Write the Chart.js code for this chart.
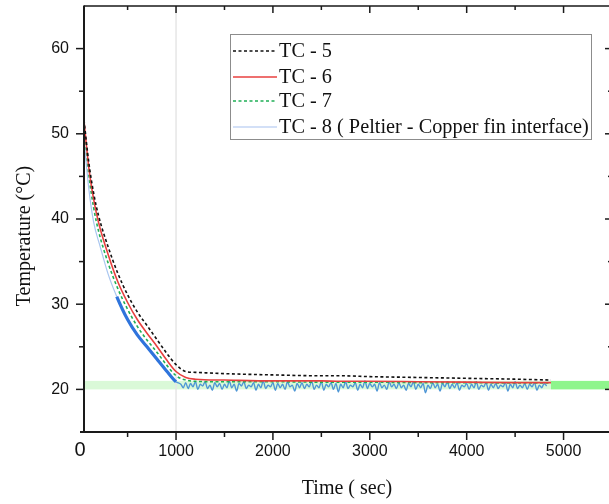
<!DOCTYPE html>
<html>
<head>
<meta charset="utf-8">
<script src="https://cdn.jsdelivr.net/npm/chart.js@4"></script>
<style>
  html, body { margin: 0; padding: 0; background: #fff; overflow: hidden; }
  #wrap { width: 609px; height: 504px; overflow: hidden; position: relative; }
  canvas { display: block; }
</style>
</head>
<body>
<div id="wrap"><canvas id="c" width="613" height="504"></canvas></div>
<script>
// ---------- data ----------
const seriesLabels = ["TC - 5", "TC - 6", "TC - 7", "TC - 8 ( Peltier - Copper fin interface)"];

// common sample times for the smooth curves (s)
const timeSmooth = [50, 100, 150, 200, 300, 400, 500, 600, 700, 800, 900, 1000, 1100, 1200, 1500, 2000, 2500, 2700, 3000, 3500, 4000, 4500, 4870];

const tc5 = [51.6, 46.6, 43.0, 40.4, 36.7, 33.6, 31.1, 29.1, 27.5, 25.9, 24.3, 22.9, 22.1, 22.0, 21.85, 21.7, 21.6, 21.6, 21.5, 21.4, 21.3, 21.2, 21.1];
const tc6 = [51.5, 46.0, 42.3, 39.6, 35.8, 32.6, 30.2, 28.2, 26.6, 25.1, 23.5, 22.1, 21.4, 21.2, 21.1, 21.0, 21.0, 20.95, 20.95, 20.9, 20.85, 20.8, 20.8];
const tc7 = [51.0, 45.2, 41.3, 38.6, 34.8, 31.8, 29.4, 27.4, 25.8, 24.4, 22.9, 21.6, 21.1, 20.95, 20.9, 20.9, 20.85, 20.85, 20.85, 20.8, 20.8, 20.75, 20.75];

// TC-8 : cooling part
const tc8CoolTime = [50, 100, 150, 216, 300, 388, 500, 600, 700, 800, 900, 1000];
const tc8Cool     = [49.3, 43.5, 39.6, 36.8, 33.5, 30.9, 28.2, 26.4, 25.0, 23.6, 22.2, 20.9];
// TC-8 : noisy steady part (start 1050 s, one reading every 25 s)
const tc8NoiseStart = 1050;
const tc8NoiseStep = 25;
const tc8Noise = [
  20.6, 20.2, 20.8, 20.1, 20.7, 20.3, 20.9, 20.0, 20.6, 20.4,
  20.9, 20.1, 20.5, 19.9, 20.8, 20.3, 20.7, 20.0, 20.6, 20.2,
  21.0, 20.2, 20.6, 19.8, 20.7, 20.4, 20.9, 20.1, 20.5, 20.3,
  20.8, 19.9, 20.6, 20.2, 21.0, 20.1, 20.5, 20.3, 20.8, 19.9,
  20.7, 20.2, 20.6, 20.0, 20.9, 20.3, 20.5, 19.8, 20.7, 20.2,
  20.8, 20.1, 20.6, 20.3, 21.0, 20.0, 20.5, 20.2, 20.9, 19.9,
  20.6, 20.3, 20.8, 20.0, 20.7, 19.7, 20.6, 20.2, 20.9, 20.1,
  20.5, 20.3, 20.8, 19.9, 20.6, 20.2, 21.0, 20.1, 20.7, 20.3,
  20.6, 19.8, 20.8, 20.2, 20.5, 20.0, 20.9, 20.3, 20.6, 20.1,
  20.8, 20.2, 20.5, 19.9, 20.7, 20.3, 20.9, 20.0, 20.6, 20.2,
  20.7, 19.6, 20.5, 20.1, 20.8, 20.2, 20.6, 19.8, 20.7, 20.3,
  20.9, 20.1, 20.6, 20.2, 20.8, 19.9, 20.5, 20.3, 20.7, 20.0,
  20.6, 20.2, 20.9, 20.0, 20.5, 20.3, 20.8, 19.9, 20.6, 20.2,
  20.7, 20.1, 20.5, 20.3, 20.8, 19.8, 20.6, 20.2, 20.9, 20.1,
  20.5, 20.2, 20.7, 20.0, 20.6, 20.3, 20.8, 19.9, 20.5, 20.2,
  20.7, 20.4
];

// axes
const xMin = 50, xMax = 5500;
const yMin = 15, yMax = 65;
const xTicks = [1000, 2000, 3000, 4000, 5000];
const xMinorTicks = [500, 1500, 2500, 3500, 4500];
const xZeroLabel = "0";
const yTicks = [20, 30, 40, 50, 60];
const yMinorTicks = [25, 35, 45, 55];
const xTitle = "Time ( sec)";
const yTitle = "Temperature (°C)";

// reference band and marker
const bandLow = 20, bandHigh = 21;
const bandSplit = 4870;
const markerTime = 1000;

// ---------- build ----------
function pts(xs, ys) { return xs.map((x, i) => ({ x: x, y: ys[i] })); }
const tc8Points = pts(tc8CoolTime, tc8Cool).concat(
  tc8Noise.map((v, i) => ({ x: tc8NoiseStart + i * tc8NoiseStep, y: v }))
);

const colors = {
  tc5: '#111111', tc6: '#e8403f', tc7: '#1fae55',
  tc8Light: '#a9c6f0', tc8Dark: '#2f74dc', tc8Noise: '#4f97d6', tc8Legend: '#c4d6f4'
};

const datasets = [
  { label: seriesLabels[0], data: pts(timeSmooth, tc5), borderColor: colors.tc5, borderWidth: 1.6, borderDash: [3, 2.5], cubicInterpolationMode: 'monotone' },
  { label: seriesLabels[1], data: pts(timeSmooth, tc6), borderColor: colors.tc6, borderWidth: 1.6, cubicInterpolationMode: 'monotone' },
  { label: seriesLabels[2], data: pts(timeSmooth, tc7), borderColor: colors.tc7, borderWidth: 1.6, borderDash: [3, 2.5], cubicInterpolationMode: 'monotone' },
  { label: seriesLabels[3], data: tc8Points, borderColor: colors.tc8Noise, borderWidth: 1, cubicInterpolationMode: 'monotone',
    legendColor: colors.tc8Legend,
    segment: {
      borderColor: c => c.p0.parsed.x < 380 ? colors.tc8Light : (c.p0.parsed.x < 1000 ? colors.tc8Dark : colors.tc8Noise),
      borderWidth: c => c.p0.parsed.x < 380 ? 1.2 : (c.p0.parsed.x < 1000 ? 3.2 : 1.4)
    }
  }
];
datasets.forEach(d => { d.pointRadius = 0; d.fill = false; });

const axisColor = '#1a1a1a';

const framePlugin = {
  id: 'frame',
  beforeDatasetsDraw(chart) {
    const { ctx, chartArea: a, scales: { x, y } } = chart;
    ctx.save();
    // band
    const yTop = y.getPixelForValue(bandHigh), yBot = y.getPixelForValue(bandLow);
    const xs = x.getPixelForValue(bandSplit);
    ctx.fillStyle = '#daf9d8';
    ctx.fillRect(a.left, yTop, xs - a.left, yBot - yTop);
    ctx.fillStyle = '#8ef58c';
    ctx.fillRect(xs, yTop, a.right - xs, yBot - yTop);
    // marker line
    const xm = x.getPixelForValue(markerTime);
    ctx.strokeStyle = '#e6e6e6';
    ctx.lineWidth = 1.5;
    ctx.beginPath(); ctx.moveTo(xm, a.top); ctx.lineTo(xm, a.bottom); ctx.stroke();
    ctx.restore();
  },
  afterDraw(chart) {
    const { ctx, chartArea: a, scales: { x, y } } = chart;
    ctx.save();
    ctx.strokeStyle = axisColor;
    // top & right frame
    ctx.lineWidth = 1.5;
    ctx.beginPath(); ctx.moveTo(a.left, a.top); ctx.lineTo(a.right, a.top); ctx.lineTo(a.right, a.bottom); ctx.stroke();
    // left & bottom axes
    ctx.lineWidth = 2;
    ctx.beginPath(); ctx.moveTo(a.left, a.top - 0.5); ctx.lineTo(a.left, a.bottom + 1); ctx.stroke();
    ctx.beginPath(); ctx.moveTo(a.left - 4, a.bottom); ctx.lineTo(a.right, a.bottom); ctx.stroke();
    ctx.lineWidth = 1.5;
    // y ticks (left outward, right inward)
    yTicks.forEach(v => {
      const p = y.getPixelForValue(v);
      ctx.beginPath(); ctx.moveTo(a.left - 8, p); ctx.lineTo(a.left, p); ctx.stroke();
      ctx.beginPath(); ctx.moveTo(a.right - 7, p); ctx.lineTo(a.right, p); ctx.stroke();
    });
    yMinorTicks.forEach(v => {
      const p = y.getPixelForValue(v);
      ctx.beginPath(); ctx.moveTo(a.left - 5, p); ctx.lineTo(a.left, p); ctx.stroke();
      ctx.beginPath(); ctx.moveTo(a.right - 4, p); ctx.lineTo(a.right, p); ctx.stroke();
    });
    // x ticks (bottom outward, top inward)
    xTicks.forEach(v => {
      const p = x.getPixelForValue(v);
      ctx.beginPath(); ctx.moveTo(p, a.bottom); ctx.lineTo(p, a.bottom + 8); ctx.stroke();
      ctx.beginPath(); ctx.moveTo(p, a.top); ctx.lineTo(p, a.top + 7); ctx.stroke();
    });
    xMinorTicks.forEach(v => {
      const p = x.getPixelForValue(v);
      ctx.beginPath(); ctx.moveTo(p, a.bottom); ctx.lineTo(p, a.bottom + 5); ctx.stroke();
      ctx.beginPath(); ctx.moveTo(p, a.top); ctx.lineTo(p, a.top + 4); ctx.stroke();
    });
    // "0" label
    ctx.fillStyle = '#111';
    ctx.font = '20px "Liberation Sans", Arial, sans-serif';
    ctx.textAlign = 'center'; ctx.textBaseline = 'middle';
    ctx.fillText(xZeroLabel, x.getPixelForValue(0) + 1, 450);
    // titles
    ctx.font = '20px "Liberation Serif", "Times New Roman", serif';
    ctx.fillText(xTitle, 347, 489);
    ctx.save();
    ctx.translate(25, 236); ctx.rotate(-Math.PI / 2);
    ctx.fillText(yTitle, 0, 0);
    ctx.restore();
    // legend
    const bx = 230.5, by = 34.5, bw = 361, bh = 105;
    ctx.fillStyle = '#fff';
    ctx.fillRect(bx, by, bw, bh);
    ctx.strokeStyle = '#8c8c8c'; ctx.lineWidth = 1;
    ctx.strokeRect(bx, by, bw, bh);
    const rows = [51, 77, 101, 127];
    ctx.font = '20.3px "Liberation Serif", "Times New Roman", serif';
    ctx.textAlign = 'left'; ctx.textBaseline = 'middle';
    chart.data.datasets.forEach((d, i) => {
      const ry = rows[i];
      ctx.save();
      ctx.strokeStyle = d.legendColor || d.borderColor;
      ctx.lineWidth = 1.6;
      ctx.setLineDash(d.borderDash || []);
      ctx.beginPath(); ctx.moveTo(233, ry); ctx.lineTo(277, ry); ctx.stroke();
      ctx.restore();
      ctx.fillStyle = '#111';
      ctx.fillText(d.label, 279, ry + 1);
    });
    ctx.restore();
  }
};

new Chart(document.getElementById('c'), {
  type: 'line',
  data: { datasets: datasets },
  options: {
    responsive: false,
    animation: false,
    layout: { autoPadding: false, padding: { top: 6, right: 1, left: 0, bottom: 0 } },
    plugins: { legend: { display: false }, tooltip: { enabled: false } },
    scales: {
      x: {
        type: 'linear', min: xMin, max: xMax,
        grid: { display: false, drawTicks: false },
        border: { display: false },
        afterBuildTicks: s => { s.ticks = xTicks.map(v => ({ value: v })); },
        afterFit: s => { s.height = 72; s.paddingLeft = 0; s.paddingRight = 0; s.paddingTop = 0; s.paddingBottom = 0; },
        ticks: { padding: 10, maxRotation: 0, autoSkip: false, color: '#111',
                 font: { family: '"Liberation Sans", Arial, sans-serif', size: 16 },
                 callback: v => String(v) }
      },
      y: {
        type: 'linear', min: yMin, max: yMax,
        grid: { display: false, drawTicks: false },
        border: { display: false },
        afterBuildTicks: s => { s.ticks = yTicks.map(v => ({ value: v })); },
        afterFit: s => { s.width = 84; s.paddingTop = 0; s.paddingBottom = 0; s.paddingLeft = 0; s.paddingRight = 0; },
        ticks: { padding: 15, color: '#111',
                 font: { family: '"Liberation Sans", Arial, sans-serif', size: 16 },
                 callback: v => String(v) }
      }
    }
  },
  plugins: [framePlugin]
});
</script>
</body>
</html>
